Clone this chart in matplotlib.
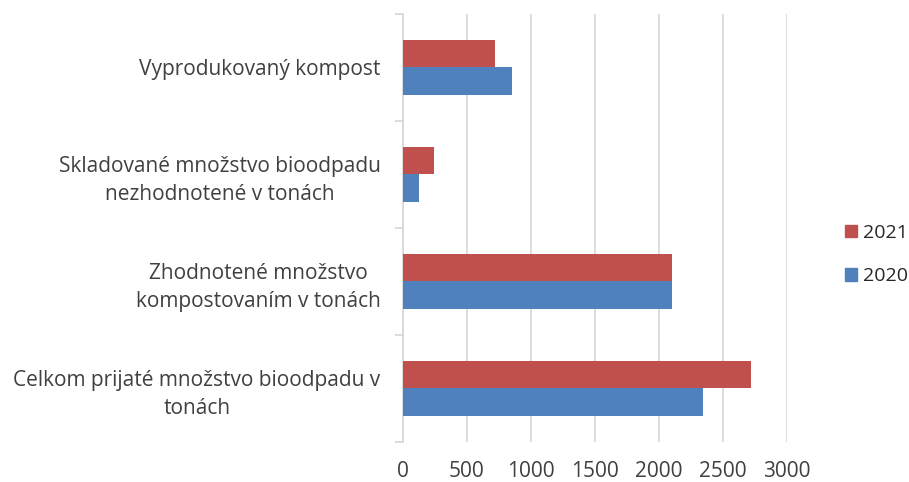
import matplotlib
matplotlib.use("Agg")
import matplotlib.pyplot as plt
import numpy as np
from matplotlib.patches import Patch

plt.rcParams['font.family'] = ['Open Sans', 'DejaVu Sans']

categories = ["Celkom prijaté množstvo bioodpadu v\ntonách",
              "Zhodnotené množstvo\nkompostovaním v tonách",
              "Skladované množstvo bioodpadu\nnezhodnotené v tonách",
              "Vyprodukovaný kompost"]
values_2020 = [2346, 2104, 130, 857]
values_2021 = [2719, 2104, 245, 721]
xticks = [0, 500, 1000, 1500, 2000, 2500, 3000]

c2020 = "#4F81BD"
c2021 = "#C0504D"
grid_c = "#D9D9D9"
txt_c = "#404040"
fs = 15

fig = plt.figure(figsize=(9.09, 4.82), dpi=100)
ax = fig.add_axes([0.443, 0.083, 0.4227, 0.888])

y = np.arange(len(categories))
h = 0.26
ax.barh(y - h/2, values_2020, height=h, color=c2020, label="2020", zorder=3)
ax.barh(y + h/2, values_2021, height=h, color=c2021, label="2021", zorder=3)

ax.set_xlim(0, 3000)
ax.set_ylim(-0.5, len(categories) - 0.5)
ax.set_xticks(xticks)
ax.set_xticklabels([str(t) for t in xticks])
ax.xaxis.grid(True, color=grid_c, linewidth=1.3, zorder=0)
ax.tick_params(axis='x', length=0, pad=14, labelsize=fs, labelcolor=txt_c)

ax.set_yticks(np.arange(-0.5, len(categories), 1.0))
ax.set_yticklabels([])
ax.tick_params(axis='y', which='major', length=6, color=grid_c, width=1.3)
ax.set_yticks(y, minor=True)
ax.set_yticklabels(categories, minor=True, multialignment='center', linespacing=1.45)
ax.tick_params(axis='y', which='minor', length=0, pad=16, labelsize=fs, labelcolor=txt_c)

for s in ['top', 'right', 'bottom']:
    ax.spines[s].set_visible(False)
ax.spines['left'].set_color(grid_c)
ax.spines['left'].set_linewidth(1.3)

handles = [Patch(color=c2021, label="2021"), Patch(color=c2020, label="2020")]
fig.legend(handles=handles, loc='center left', bbox_to_anchor=(845/909, 0.472),
           frameon=False, fontsize=14, handlelength=0.62, handleheight=0.62,
           handletextpad=0.3, labelspacing=1.3, borderaxespad=0, borderpad=0,
           labelcolor="#262626")

fig.savefig("out.png", dpi=100)
